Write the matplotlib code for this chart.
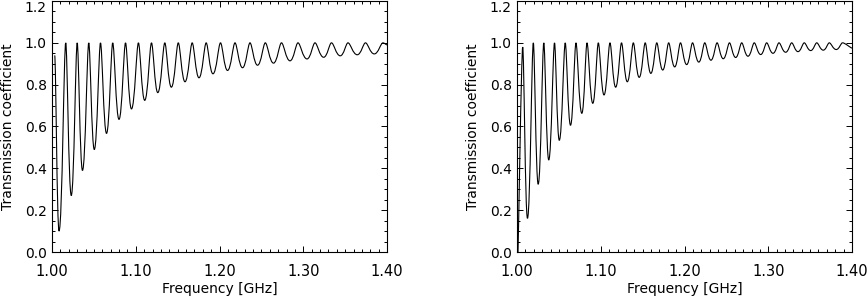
import numpy as np
import matplotlib
matplotlib.use('Agg')
import matplotlib.pyplot as plt
from matplotlib.path import Path
from matplotlib.patches import PathPatch
from matplotlib.ticker import MultipleLocator, FormatStrFormatter

# left panel: turning points
left_start = (1.0032, 0.94)
left_end = (1.40, 0.99)
left_min_f = [1.0084, 1.0230, 1.0364, 1.0505, 1.0651, 1.0800, 1.0949, 1.1107,
              1.1263, 1.1425, 1.1588, 1.1755, 1.1922, 1.2096, 1.2275, 1.2454,
              1.2645, 1.2842, 1.3045, 1.3244, 1.3442, 1.3645, 1.3848]
left_min_T = [0.10, 0.27, 0.39, 0.49, 0.567, 0.634, 0.684, 0.725,
              0.762, 0.788, 0.814, 0.833, 0.852, 0.868, 0.881, 0.893,
              0.903, 0.914, 0.923, 0.931, 0.938, 0.943, 0.947]
left_peak_f = [1.0164, 1.0301, 1.0439, 1.0579, 1.0725, 1.0878, 1.1032, 1.1188,
               1.1347, 1.1508, 1.1674, 1.1841, 1.2012, 1.2185, 1.2364, 1.2547,
               1.2740, 1.2937, 1.3140, 1.3337, 1.3534, 1.3743, 1.3952]
left_peak_T = [1.0] * 23

# right panel
right_start = [(1.0012, 0.0), (1.0068, 0.98)]
right_end = (1.40, 0.975)
right_min_f = [1.0125, 1.0253, 1.0379, 1.0505, 1.0639, 1.0774, 1.0905, 1.1039,
               1.1178, 1.1317, 1.1459, 1.1598, 1.1740, 1.1883, 1.2026, 1.2171,
               1.2316, 1.2463, 1.2611, 1.2758, 1.2910, 1.3057, 1.3208, 1.3355,
               1.3507, 1.3657, 1.3812]
right_min_T = [0.161, 0.324, 0.44, 0.534, 0.606, 0.663, 0.711, 0.751,
               0.788, 0.814, 0.835, 0.854, 0.870, 0.885, 0.896, 0.908,
               0.917, 0.924, 0.930, 0.936, 0.944, 0.950, 0.955, 0.958,
               0.963, 0.965, 0.968]
right_peak_f = [1.0195, 1.0320, 1.0448, 1.0576, 1.0704, 1.0836, 1.0971, 1.1110,
                1.1248, 1.1389, 1.1531, 1.1669, 1.1811, 1.1952, 1.2096, 1.2242,
                1.2389, 1.2537, 1.2683, 1.2833, 1.2981, 1.3128, 1.3280, 1.3430,
                1.3579, 1.3729, 1.3887]
right_peak_T = [1.0] * 27


def build(start, mins_f, mins_T, peaks_f, peaks_T, end):
    f = [p[0] for p in start]
    t = [p[1] for p in start]
    for a, b, c, d in zip(mins_f, mins_T, peaks_f, peaks_T):
        f += [a, c]
        t += [b, d]
    f.append(end[0])
    t.append(end[1])
    return np.array(f), np.array(t)


def smooth_path(f, t, n_start):
    # cubic bezier between turning points, flat tangent at each turning point
    verts = [(f[0], t[0])]
    codes = [Path.MOVETO]
    for i in range(len(f) - 1):
        x0, y0, x1, y1 = f[i], t[i], f[i + 1], t[i + 1]
        dx = x1 - x0
        k0 = 0.28 if y0 > y1 else 0.48
        k1 = 0.28 if y1 > y0 else 0.48
        if i < n_start - 1:
            k0 = 0.05
        if i == len(f) - 2:
            k1 = 0.15
        verts += [(x0 + k0 * dx, y0), (x1 - k1 * dx, y1), (x1, y1)]
        codes += [Path.CURVE4] * 3
    return Path(verts, codes)


curves = [build([left_start], left_min_f, left_min_T, left_peak_f, left_peak_T, left_end),
          build(right_start, right_min_f, right_min_T, right_peak_f, right_peak_T, right_end)]
n_starts = [1, 2]

fig = plt.figure(figsize=(8.68, 2.98), dpi=100)
lefts = [52, 517]
narrow = ['Liberation Sans Narrow', 'DejaVu Sans']
for left, (f, t), ns in zip(lefts, curves, n_starts):
    ax = fig.add_axes([left / 868, 46 / 298, 335 / 868, 251 / 298])
    ax.add_patch(PathPatch(smooth_path(f, t, ns), fill=False, edgecolor='black', lw=0.8))
    ax.set_xlim(1.0, 1.4)
    ax.set_ylim(0.0, 1.2)
    ax.xaxis.set_major_locator(MultipleLocator(0.1))
    ax.xaxis.set_minor_locator(MultipleLocator(0.01))
    ax.yaxis.set_major_locator(MultipleLocator(0.2))
    ax.yaxis.set_minor_locator(MultipleLocator(0.05))
    ax.xaxis.set_major_formatter(FormatStrFormatter('%.2f'))
    ax.yaxis.set_major_formatter(FormatStrFormatter('%.1f'))
    ax.tick_params(which='both', direction='in', top=True, right=True, width=0.7, color='black')
    ax.tick_params(which='major', length=4)
    ax.tick_params(which='minor', length=2)
    ax.tick_params(axis='x', pad=8.5)
    ax.tick_params(axis='y', pad=3.8, labelsize=10)
    for lab in ax.get_xticklabels():
        lab.set_family(narrow)
        lab.set_fontsize(10.5)
    fig.canvas.draw()
    ylabs = ax.get_yticklabels()
    for lab in ylabs:
        if lab.get_text() == '1.2':
            lab.set_verticalalignment('top')
    for s in ax.spines.values():
        s.set_linewidth(0.8)
    ax.set_xlabel('Frequency [GHz]', fontsize=10)
    ax.set_ylabel('Transmission coefficient', fontsize=10)
    ax.xaxis.set_label_coords(0.5, -0.12)
    ax.yaxis.set_label_coords(-0.11, 0.5)

fig.savefig('out.png', dpi=100)
